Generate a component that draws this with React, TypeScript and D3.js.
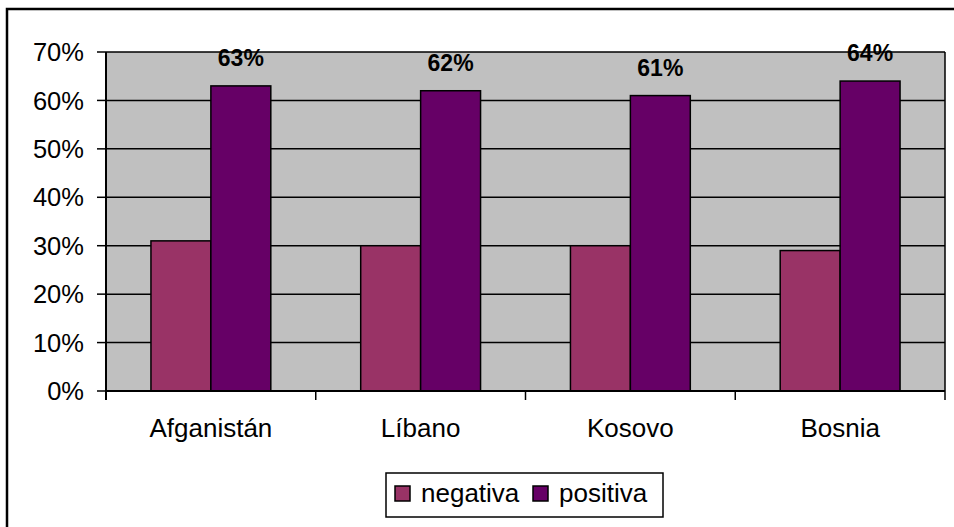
import * as d3 from 'd3';

const categories = ['Afganistán', 'Líbano', 'Kosovo', 'Bosnia'];
const negativa = [31, 30, 30, 29];
const positiva = [63, 62, 61, 64];
const seriesNames = ['negativa', 'positiva'];
const seriesColors = ['#993366', '#660066'];
const yTicks = [0, 10, 20, 30, 40, 50, 60, 70];

const W = 954;
const H = 527;
const plot = { left: 106, right: 945, top: 52, bottom: 391 };
const font = 'Liberation Sans, Arial, sans-serif';

export default function App() {
  const x = d3
    .scaleBand<string>()
    .domain(categories)
    .range([plot.left, plot.right]);
  const barW = x.bandwidth() / 3.5;
  const y = d3.scaleLinear().domain([0, 70]).range([plot.bottom, plot.top]);
  const values = [negativa, positiva];

  return (
    <svg
      width={W}
      height={H}
      style={{ position: 'absolute', left: 0, top: 0 }}
      fontFamily={font}
    >
      <rect x={0} y={0} width={W} height={H} fill="#fff" />
      <rect x={7} y={9} width={955} height={530} fill="none" stroke="#000" strokeWidth={2.5} />
      <rect
        x={plot.left}
        y={plot.top}
        width={plot.right - plot.left}
        height={plot.bottom - plot.top}
        fill="#c0c0c0"
      />
      {yTicks.map((t) => (
        <g key={t}>
          <line x1={plot.left} x2={plot.right} y1={y(t)} y2={y(t)} stroke="#000" strokeWidth={1.5} />
          <line x1={97} x2={plot.left} y1={y(t)} y2={y(t)} stroke="#000" strokeWidth={1.5} />
          <text x={84} y={y(t)} dy="0.36em" textAnchor="end" fontSize={25.5}>
            {t}%
          </text>
        </g>
      ))}
      <line x1={plot.right} x2={plot.right} y1={plot.top} y2={plot.bottom} stroke="#000" strokeWidth={1.5} />
      {categories.map((c, i) =>
        values.map((vals, s) => {
          const bx = (x(c) as number) + barW * 0.75 + s * barW;
          return (
            <rect
              key={c + s}
              x={bx}
              y={y(vals[i])}
              width={barW}
              height={plot.bottom - y(vals[i])}
              fill={seriesColors[s]}
              stroke="#000"
              strokeWidth={1.5}
            />
          );
        })
      )}
      {categories.map((c, i) => (
        <text
          key={c + 'lbl'}
          x={(x(c) as number) + barW * 0.75 + barW * 1.5}
          y={y(positiva[i]) - 20}
          textAnchor="middle"
          fontSize={23}
          fontWeight="bold"
        >
          {positiva[i]}%
        </text>
      ))}
      <line x1={plot.left} x2={plot.left} y1={plot.top} y2={plot.bottom + 9} stroke="#000" strokeWidth={2} />
      <line x1={plot.left} x2={plot.right} y1={plot.bottom} y2={plot.bottom} stroke="#000" strokeWidth={2} />
      {d3.range(categories.length + 1).map((k) => {
        const tx = plot.left + k * x.step();
        return <line key={k} x1={tx} x2={tx} y1={plot.bottom} y2={plot.bottom + 9} stroke="#000" strokeWidth={1.5} />;
      })}
      {categories.map((c) => (
        <text
          key={c}
          x={(x(c) as number) + x.bandwidth() / 2}
          y={437}
          textAnchor="middle"
          fontSize={26}
        >
          {c}
        </text>
      ))}
      <rect x={386} y={473} width={277} height={44} fill="#fff" stroke="#000" strokeWidth={1.5} />
      {seriesNames.map((n, s) => {
        const lx = s === 0 ? 395 : 533;
        return (
          <g key={n}>
            <rect x={lx} y={486} width={15} height={15} fill={seriesColors[s]} stroke="#000" strokeWidth={1.5} />
            <text x={lx + 26} y={502} fontSize={26}>
              {n}
            </text>
          </g>
        );
      })}
    </svg>
  );
}
